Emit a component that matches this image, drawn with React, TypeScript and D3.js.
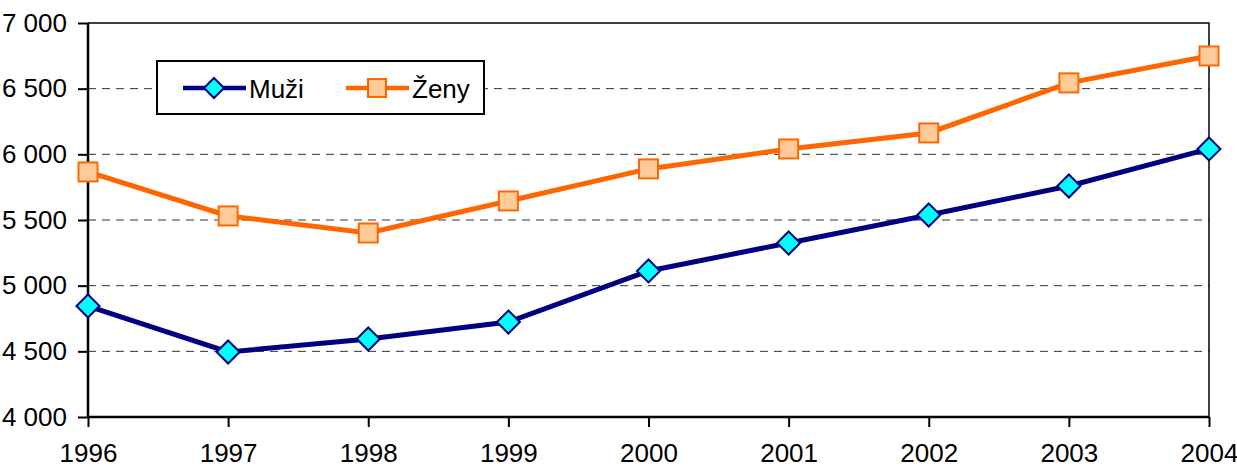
import React, { useEffect, useRef } from 'react';
import * as d3 from 'd3';

const years = ['1996', '1997', '1998', '1999', '2000', '2001', '2002', '2003', '2004'];
const muzi = [4845, 4495, 4594, 4723, 5112, 5325, 5538, 5759, 6041];
const zeny = [5866, 5531, 5401, 5645, 5889, 6041, 6163, 6544, 6749];
const yTicks = [4000, 4500, 5000, 5500, 6000, 6500, 7000];

const fmt = (v: number) => d3.format(',')(v).replace(',', ' ');

const App: React.FC = () => {
  const ref = useRef<SVGSVGElement>(null);

  useEffect(() => {
    const svg = d3.select(ref.current);
    svg.selectAll('*').remove();

    const margin = { top: 23, right: 28, bottom: 53, left: 88 };
    const width = 1237 - margin.left - margin.right;
    const height = 470 - margin.top - margin.bottom;

    const g = svg.append('g').attr('transform', `translate(${margin.left},${margin.top})`);

    const x = d3.scalePoint().domain(years).range([0, width]);
    const y = d3.scaleLinear().domain([4000, 7000]).range([height, 0]);

    // griglia tratteggiata
    g.selectAll('.grid')
      .data(yTicks.filter(t => t > 4000 && t < 7000))
      .enter()
      .append('line')
      .attr('x1', 0)
      .attr('x2', width)
      .attr('y1', d => y(d))
      .attr('y2', d => y(d))
      .attr('stroke', '#333')
      .attr('stroke-width', 1)
      .attr('stroke-dasharray', '8,6');

    // bordo top/right
    g.append('path')
      .attr('d', `M0,0H${width}V${height}`)
      .attr('fill', 'none')
      .attr('stroke', '#000')
      .attr('stroke-width', 1.5);

    const font = '"Liberation Sans Narrow", "Arial Narrow", sans-serif';
    const fs = 26;

    const yAxis = g.append('g').call(
      d3.axisLeft(y).tickValues(yTicks).tickSize(10).tickPadding(11).tickFormat(d => fmt(d as number))
    );
    const xAxis = g
      .append('g')
      .attr('transform', `translate(0,${height})`)
      .call(d3.axisBottom(x).tickSize(10).tickPadding(17));

    [yAxis, xAxis].forEach(a => {
      a.select('.domain').attr('stroke', '#000').attr('stroke-width', 2.5);
      a.selectAll('.tick line').attr('stroke', '#000').attr('stroke-width', 2);
      a.selectAll('text').attr('font-family', font).attr('font-size', fs).attr('fill', '#000');
    });
    yAxis.select('.domain').attr('d', `M0,0V${height}`);
    xAxis.select('.domain').attr('d', `M0,0H${width}`);

    const line = d3
      .line<number>()
      .x((_, i) => x(years[i])!)
      .y(d => y(d));

    g.append('path')
      .datum(muzi)
      .attr('d', line)
      .attr('fill', 'none')
      .attr('stroke', '#000080')
      .attr('stroke-width', 5);
    g.append('path')
      .datum(zeny)
      .attr('d', line)
      .attr('fill', 'none')
      .attr('stroke', '#FF6600')
      .attr('stroke-width', 5);

    const diamond = (s: number) => `M0,${-s}L${s},0L0,${s}L${-s},0Z`;

    g.selectAll('.m')
      .data(muzi)
      .enter()
      .append('path')
      .attr('d', diamond(11.5))
      .attr('transform', (d, i) => `translate(${x(years[i])},${y(d)})`)
      .attr('fill', '#00FFFF')
      .attr('stroke', '#000080')
      .attr('stroke-width', 2);

    g.selectAll('.z')
      .data(zeny)
      .enter()
      .append('rect')
      .attr('x', (_, i) => x(years[i])! - 9.5)
      .attr('y', d => y(d) - 9.5)
      .attr('width', 19)
      .attr('height', 19)
      .attr('fill', '#FFCC99')
      .attr('stroke', '#FF6600')
      .attr('stroke-width', 2);

    // legenda
    const lg = svg.append('g').attr('transform', 'translate(157,61)');
    lg.append('rect')
      .attr('width', 327)
      .attr('height', 53)
      .attr('fill', '#fff')
      .attr('stroke', '#000')
      .attr('stroke-width', 2);
    lg.append('line').attr('x1', 26).attr('x2', 89).attr('y1', 27).attr('y2', 27)
      .attr('stroke', '#000080').attr('stroke-width', 4.5);
    lg.append('path').attr('d', diamond(10)).attr('transform', 'translate(57,27)')
      .attr('fill', '#00FFFF').attr('stroke', '#000080').attr('stroke-width', 2);
    lg.append('text').attr('x', 92).attr('y', 37).text('Muži')
      .attr('font-family', font).attr('font-size', fs);
    lg.append('line').attr('x1', 189).attr('x2', 252).attr('y1', 27).attr('y2', 27)
      .attr('stroke', '#FF6600').attr('stroke-width', 4.5);
    lg.append('rect').attr('x', 211).attr('y', 18).attr('width', 18).attr('height', 18)
      .attr('fill', '#FFCC99').attr('stroke', '#FF6600').attr('stroke-width', 2);
    lg.append('text').attr('x', 255).attr('y', 37).text('Ženy')
      .attr('font-family', font).attr('font-size', fs);
  }, []);

  return (
    <svg
      ref={ref}
      width={1237}
      height={470}
      style={{ position: 'absolute', left: 0, top: 0, background: '#fff' }}
    />
  );
};

export default App;
